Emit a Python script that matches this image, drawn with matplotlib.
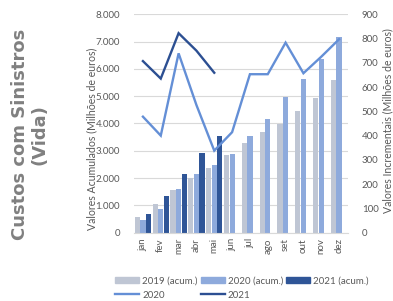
import numpy as np
import matplotlib
matplotlib.use("Agg")
import matplotlib.pyplot as plt
from matplotlib.lines import Line2D
from matplotlib.patches import Patch

# Monthly data (millions of euros)
months = ["jan", "fev", "mar", "abr", "mai", "jun", "jul", "ago", "set", "out", "nov", "dez"]
acum_2019 = [560, 1050, 1565, 1995, 2370, 2835, 3275, 3680, 3995, 4460, 4945, 5595]
acum_2020 = [455, 870, 1600, 2140, 2470, 2870, 3540, 4175, 4980, 5620, 6365, 7180]
acum_2021 = [685, 1335, 2140, 2910, 3540]
incr_2020 = [478, 400, 739, 526, 338, 414, 653, 653, 783, 657, 725, 797]
incr_2021 = [707, 635, 822, 750, 659]

c2019 = "#bfc6d4"
c2020 = "#8eaadc"
c2021 = "#2f5597"
line2020 = "#648fd6"
line2021 = "#2c4f92"
txt = "#595959"
grid = "#d9d9d9"

plt.rcParams["font.family"] = ["Lato", "DejaVu Sans"]

fig = plt.figure(figsize=(3.93, 3.01), dpi=100)
ax = fig.add_axes([0.341, 0.227, 0.5445, 0.7256])
ax2 = ax.twinx()

x = np.arange(len(months))
w = 0.29
ax.bar(x - 0.31, acum_2019, w, color=c2019, zorder=2)
ax.bar(x, acum_2020, w, color=c2020, zorder=2)
ax.bar(x[:len(acum_2021)] + 0.31, acum_2021, w, color=c2021, zorder=2)

ax2.plot(x, incr_2020, color=line2020, lw=1.7, solid_joinstyle="miter")
ax2.plot(x[:len(incr_2021)], incr_2021, color=line2021, lw=1.7, solid_joinstyle="miter")

ax.set_xlim(-0.5, 11.5)
ax.set_ylim(0, 8000)
ax2.set_ylim(0, 900)
ax.set_yticks(range(0, 8001, 1000))
ax.set_yticklabels(["0" if v == 0 else f"{v // 1000}.000" for v in range(0, 8001, 1000)])
ax2.set_yticks(range(0, 901, 100))
ax.yaxis.grid(True, color=grid, lw=0.8, zorder=0)
ax.set_axisbelow(True)

ax.set_xticks(x)
ax.set_xticklabels(months, rotation=90)

for a in (ax, ax2):
    for s in a.spines.values():
        s.set_visible(False)
    a.tick_params(length=0, labelsize=7, colors=txt)
ax.spines["bottom"].set_visible(True)
ax.spines["bottom"].set_color(grid)
ax.tick_params(axis="y", pad=10)
ax2.tick_params(axis="y", pad=10)
ax.tick_params(axis="x", pad=4)

fig.text(0.234, 0.538, "Valores Acumulados (Milhões de euros)", rotation=90,
         ha="center", va="center", fontsize=7.6, color=txt)
fig.text(0.988, 0.60, "Valores Incrementais (Milhões de euros)", rotation=90,
         ha="center", va="center", fontsize=7.6, color=txt)

fig.text(0.076, 0.553, "Custos com Sinistros\n(Vida)", rotation=90, ha="center",
         va="center", multialignment="center", fontsize=13, fontweight="bold",
         color="#808080", family="DejaVu Sans", linespacing=1.1)

# legend is filled column by column, so order handles to give rows
handles = [Patch(color=c2019), Line2D([], [], color=line2020, lw=1.7),
           Patch(color=c2020), Line2D([], [], color=line2021, lw=1.7),
           Patch(color=c2021)]
labels = ["2019 (acum.)", "2020", "2020 (acum.)", "2021", "2021 (acum.)"]
leg = fig.legend(handles, labels, ncol=3, loc="upper left", bbox_to_anchor=(0.28, 0.098),
                 frameon=False, fontsize=7, handlelength=2.5, handleheight=0.7,
                 handletextpad=0.3, columnspacing=0.3, labelspacing=0.55, borderpad=0)
for t in leg.get_texts():
    t.set_color(txt)

fig.savefig("out.png", dpi=100)
